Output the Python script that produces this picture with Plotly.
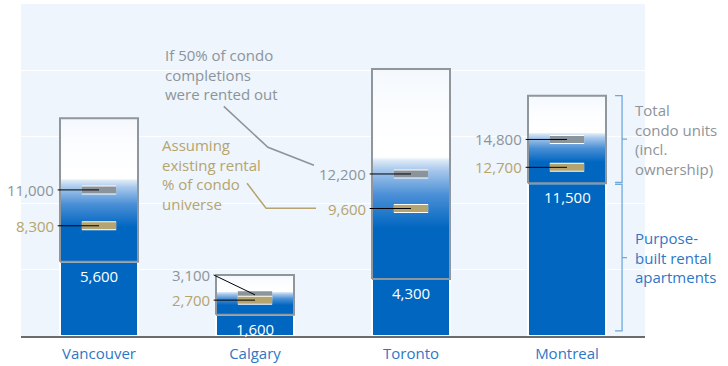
import plotly.graph_objects as go

# City-level rental supply (units)
cities = ["Vancouver", "Calgary", "Toronto", "Montreal"]
purpose_built = [5600, 1600, 4300, 11500]          # purpose-built rental apartments
condo_units = [10800, 3000, 15800, 6600]           # total condo units (incl. ownership)
rented_half = [11000, 3100, 12200, 14800]          # if 50% of condo completions were rented out
rented_existing = [8300, 2700, 9600, 12700]        # assuming existing rental % of condo universe

FONT = "Open Sans"
BLUE = "#0066C0"
TEXT_BLUE = "#2E77C6"
GRAY = "#8C949B"
TAN = "#B5A46F"
BOX_EDGE = "#8F969C"
BRACE = "#6FA8DC"

BAR_HALF = 0.25     # half bar width in category units
MARK_HALF = 0.11    # half width of the scenario markers

# colour ramp of the condo box, 0 = bottom (rental base), 1 = top (total)
GRAD = [
    [0.0, BLUE], [0.24, BLUE], [0.40, "#4A8FD6"], [0.52, "#A9C9EC"],
    [0.565, "#DCE9F7"], [0.58, "#FFFFFF"], [0.8, "#FCFDFF"], [1.0, "#F4F8FD"],
]

fig = go.Figure()

# purpose-built rental bars
fig.add_trace(go.Bar(
    x=list(range(len(cities))), y=purpose_built, width=2 * BAR_HALF,
    marker=dict(color=BLUE, line=dict(color="white", width=2)),
    hoverinfo="skip", showlegend=False,
))

# condo boxes stacked on top of the rental bars
totals = [b + c for b, c in zip(purpose_built, condo_units)]
for i, (b, top) in enumerate(zip(purpose_built, totals)):
    fig.add_trace(go.Scatter(
        x=[i - BAR_HALF, i + BAR_HALF, i + BAR_HALF, i - BAR_HALF, i - BAR_HALF],
        y=[b, b, top, top, b],
        mode="lines", fill="toself",
        line=dict(color=BOX_EDGE, width=2),
        fillgradient=dict(type="vertical", colorscale=GRAD, start=b, stop=top),
        hoverinfo="skip", showlegend=False,
    ))


def segments(values, half):
    xs, ys = [], []
    for i, v in enumerate(values):
        xs += [i - half, i + half, None]
        ys += [v, v, None]
    return xs, ys


# scenario markers (white halo + coloured bar)
for vals, col in ((rented_half, GRAY), (rented_existing, TAN)):
    xs, ys = segments(vals, MARK_HALF)
    fig.add_trace(go.Scatter(x=xs, y=ys, mode="lines",
                             line=dict(color="white", width=9),
                             hoverinfo="skip", showlegend=False))
    fig.add_trace(go.Scatter(x=xs, y=ys, mode="lines",
                             line=dict(color=col, width=7),
                             hoverinfo="skip", showlegend=False))

# label positions: lift the 50% label to the box top when both values crowd together
half_label_y = [top if h - e < 1000 else h
                for h, e, top in zip(rented_half, rented_existing, totals)]

# black leader lines from the labels to the markers
lx, ly = [], []
for i, (v, lyv) in enumerate(zip(rented_half, half_label_y)):
    lx += [i - BAR_HALF - 0.015, i, None]
    ly += [lyv, v, None]
for i, v in enumerate(rented_existing):
    lx += [i - BAR_HALF - 0.015, i, None]
    ly += [v, v, None]
fig.add_trace(go.Scatter(x=lx, y=ly, mode="lines",
                         line=dict(color="black", width=1),
                         hoverinfo="skip", showlegend=False))

annotations = []
for i, (v, yv) in enumerate(zip(rented_half, half_label_y)):
    annotations.append(dict(x=i - BAR_HALF, y=yv, text=f"{v:,}", xanchor="right",
                            yanchor="middle", xshift=-4, showarrow=False,
                            font=dict(family=FONT, size=15, color=GRAY)))
for i, v in enumerate(rented_existing):
    annotations.append(dict(x=i - BAR_HALF, y=v, text=f"{v:,}", xanchor="right",
                            yanchor="middle", xshift=-4, showarrow=False,
                            font=dict(family=FONT, size=15, color=TAN)))
for i, v in enumerate(purpose_built):
    annotations.append(dict(x=i, y=v, text=f"{v:,}", xanchor="center",
                            yanchor="top", yshift=-2, showarrow=False,
                            font=dict(family=FONT, size=15, color="white")))

# explanatory notes
annotations += [
    dict(x=0.41, y=22100, text="If 50% of condo<br>completions<br>were rented out",
         xanchor="left", yanchor="top", align="left", showarrow=False,
         font=dict(family=FONT, size=15, color=GRAY)),
    dict(x=0.39, y=15250, text="Assuming<br>existing rental<br>% of condo<br>universe",
         xanchor="left", yanchor="top", align="left", showarrow=False,
         font=dict(family=FONT, size=15, color=TAN)),
    dict(x=3.42, y=17950, text="Total<br>condo units<br>(incl.<br>ownership)",
         xanchor="left", yanchor="top", align="left", showarrow=False,
         font=dict(family=FONT, size=15, color=GRAY)),
    dict(x=3.42, y=8250, text="Purpose-<br>built rental<br>apartments",
         xanchor="left", yanchor="top", align="left", showarrow=False,
         font=dict(family=FONT, size=15, color=TEXT_BLUE)),
]

shapes = [
    dict(type="path", xref="x", yref="y",
         path="M 0.80,17290 L 1.083,14210 L 1.378,12860",
         line=dict(color=GRAY, width=1.5)),
    dict(type="path", xref="x", yref="y",
         path="M 0.949,11500 L 1.071,9620 L 1.391,9620",
         line=dict(color=TAN, width=1.5)),
]


def brace(lo, hi):
    mid = (lo + hi) / 2
    return dict(type="path", xref="x", yref="y",
                path=(f"M 3.308,{hi} L 3.353,{hi} L 3.353,{lo} L 3.308,{lo} "
                      f"M 3.353,{mid} L 3.385,{mid}"),
                line=dict(color=BRACE, width=1.3))


mi = cities.index("Montreal")
shapes.append(brace(purpose_built[mi] + 60, totals[mi]))
shapes.append(brace(380, purpose_built[mi] - 80))

fig.update_layout(
    width=728, height=366,
    margin=dict(l=21, r=83, t=4, b=30, autoexpand=False),
    paper_bgcolor="white", plot_bgcolor="#EEF5FC",
    annotations=annotations, shapes=shapes,
    xaxis=dict(range=[-0.5, 3.5], tickvals=list(range(len(cities))), ticktext=cities,
               showgrid=False, zeroline=False, showline=True, linecolor="#6B6B6B",
               linewidth=1.5, ticks="", ticklabelstandoff=3, automargin=False,
               tickfont=dict(family=FONT, size=15, color=TEXT_BLUE)),
    yaxis=dict(range=[0, 25000], dtick=5000, showticklabels=False, zeroline=False,
               showgrid=True, gridcolor="white", gridwidth=1, showline=False,
               automargin=False),
    showlegend=False,
)

fig.write_html("out.html")
